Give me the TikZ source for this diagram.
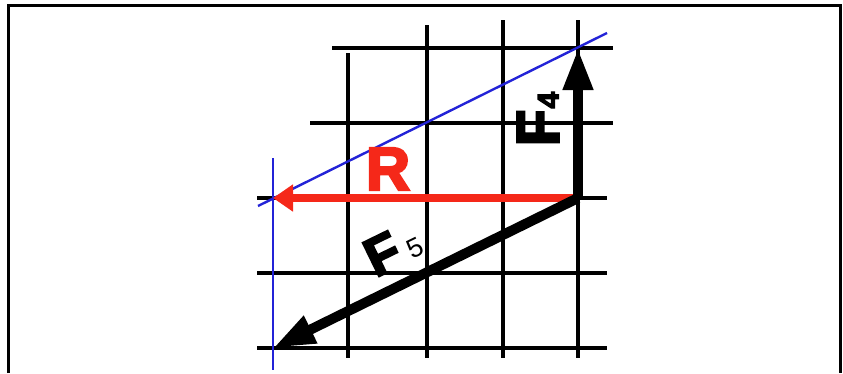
\documentclass[tikz,border=0pt]{standalone}
\usepackage{fontspec}
\usetikzlibrary{arrows.meta}
\newfontfamily\heavyfont{Liberation Sans}[UprightFont={* Bold}, UprightFeatures={FakeBold=4}]
\newfontfamily\plainfont{Liberation Sans}
\definecolor{vred}{RGB}{245,40,25}
\definecolor{vblue}{RGB}{35,35,215}
\begin{document}
\begin{tikzpicture}[x=1pt,y=-1pt,
  gridline/.style={line width=3.2pt, black},
  frameline/.style={line width=3pt, black},
  blueline/.style={line width=2.4pt, vblue},
  forcearrow/.style={line width=10pt, black, -{Triangle[length=42pt,width=28pt]}},
  resarrow/.style={line width=8pt, vred, -{Triangle[length=20pt,width=26pt]}},
  label/.style={inner sep=0pt, anchor=center}]
\useasboundingbox (0,0) rectangle (843,373);
% frame
\draw[frameline] (8,373) -- (8,5) -- (840,5) -- (840,373);
% key points
\coordinate (O) at (578,198);
\coordinate (T4) at (578,48);
\coordinate (TR) at (273,198);
\coordinate (T5) at (273,348);
% grid: horizontal
\draw[gridline] (332,48) -- (613,48);
\draw[gridline] (310,123) -- (613,123);
\draw[gridline] (257,198) -- (607,198);
\draw[gridline] (257,273) -- (607,273);
\draw[gridline] (257,348) -- (607,348);
% grid: vertical
\draw[gridline] (348,53) -- (348,358);
\draw[gridline] (427,25) -- (427,358);
\draw[gridline] (503,20) -- (503,358);
\draw[gridline] (578,20) -- (578,358);
% blue construction lines
\coordinate (B1) at (258,206);
\coordinate (B2) at (607,33);
\coordinate (V1) at (273,158);
\coordinate (V2) at (273,370);
\draw[blueline] (B1) -- (B2);
\draw[blueline] (V1) -- (V2);
% forces
\draw[resarrow] (O) -- (TR);
\draw[forcearrow] (O) -- (T4);
\draw[forcearrow] (O) -- (T5);
% labels
\node[label, text=vred] (r) at (388,169) {\heavyfont\fontsize{61}{61}\selectfont R};
\node[label, rotate=90] (f4) at (538,119) {\heavyfont\fontsize{60}{60}\selectfont F\kern1pt{\fontsize{30}{30}\selectfont 4}};
\node[label, rotate=26] (f5) at (393,249) {\heavyfont\fontsize{54}{54}\selectfont F\kern8pt{\plainfont\fontsize{27}{27}\selectfont 5}};
\end{tikzpicture}
\end{document}
